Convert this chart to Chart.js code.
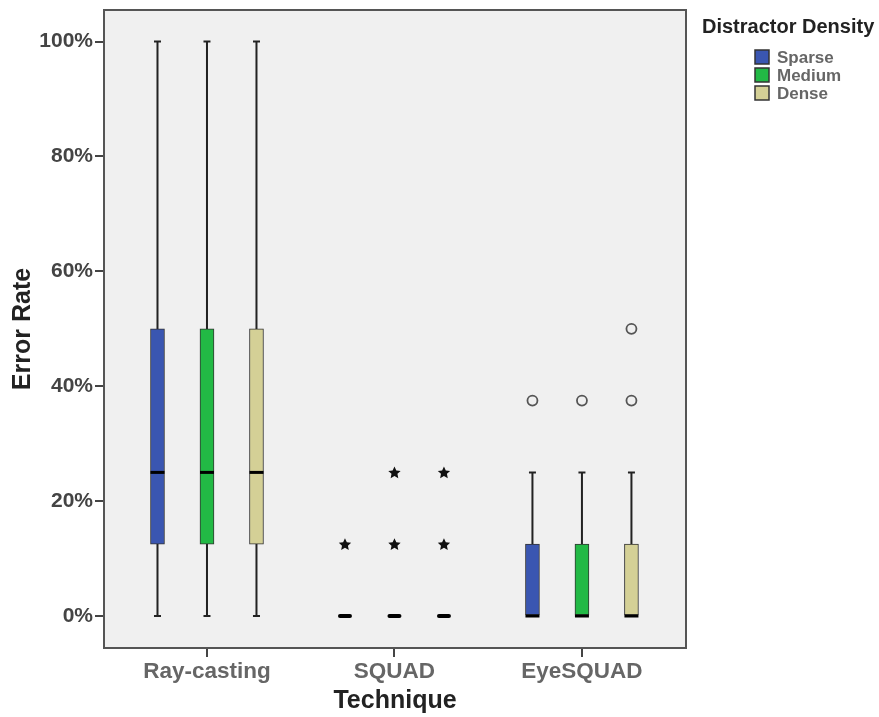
<!DOCTYPE html>
<html>
<head>
<meta charset="utf-8">
<script src="https://cdn.jsdelivr.net/npm/chart.js@4.4.1/dist/chart.umd.min.js"></script>
<style>
body{margin:0;background:#fff;}
</style>
</head>
<body>
<canvas id="chart" width="879" height="717"></canvas>
<script>
// values, error rate in %
var techniques = ['Ray-casting', 'SQUAD', 'EyeSQUAD'];
var densities = ['Sparse', 'Medium', 'Dense'];
var yTicks = [0, 20, 40, 60, 80, 100];

// [min, q1, median, q3, max] for each technique
var sparseBox = [[0, 12.5, 25, 50, 100], [0, 0, 0, 0, 0], [0, 0, 0, 12.5, 25]];
var mediumBox = [[0, 12.5, 25, 50, 100], [0, 0, 0, 0, 0], [0, 0, 0, 12.5, 25]];
var denseBox  = [[0, 12.5, 25, 50, 100], [0, 0, 0, 0, 0], [0, 0, 0, 12.5, 25]];

// extreme values (stars) and outliers (circles)
var sparseExtremes = [[], [12.5], []];
var mediumExtremes = [[], [12.5, 25], []];
var denseExtremes  = [[], [12.5, 25], []];
var sparseOutliers = [[], [], [37.5]];
var mediumOutliers = [[], [], [37.5]];
var denseOutliers  = [[], [], [37.5, 50]];

var colors = ['#3a56b1', '#22b945', '#d4d096'];
var boxes = [sparseBox, mediumBox, denseBox];
var extremes = [sparseExtremes, mediumExtremes, denseExtremes];
var outliers = [sparseOutliers, mediumOutliers, denseOutliers];

var FONT = "'Liberation Sans', Arial, sans-serif";
var spread = 0.264;
var boxW = 14;

function boxX(g, d) {
  return g + 1 + (d - 1) * spread;
}

var datasets = densities.map(function (name, d) {
  return {
    label: name,
    grouped: false,
    backgroundColor: colors[d],
    borderColor: '#333',
    borderWidth: 1,
    borderSkipped: false,
    barThickness: boxW,
    data: boxes[d].map(function (b, g) {
      return { x: boxX(g, d), y: [b[1], b[3]] };
    })
  };
});

function drawStar(ctx, x, y, r) {
  ctx.beginPath();
  for (var i = 0; i < 10; i++) {
    var rad = i % 2 === 0 ? r : r * 0.48;
    var a = -Math.PI / 2 + i * Math.PI / 5;
    var px = x + rad * Math.cos(a), py = y + rad * Math.sin(a);
    if (i === 0) ctx.moveTo(px, py); else ctx.lineTo(px, py);
  }
  ctx.closePath();
  ctx.fill();
}

var boxPlugin = {
  id: 'boxPlugin',
  beforeDraw: function (chart) {
    var a = chart.chartArea, ctx = chart.ctx;
    ctx.save();
    ctx.fillStyle = '#f0f0f0';
    ctx.fillRect(a.left, a.top, a.right - a.left, a.bottom - a.top);
    ctx.restore();
  },
  beforeDatasetsDraw: function (chart) {
    var ctx = chart.ctx, xs = chart.scales.x, ys = chart.scales.y;
    ctx.save();
    ctx.strokeStyle = '#222';
    ctx.lineWidth = 2;
    boxes.forEach(function (set, d) {
      set.forEach(function (b, g) {
        if (b[0] === b[4]) return;
        var px = xs.getPixelForValue(boxX(g, d));
        var top = ys.getPixelForValue(b[4]), bot = ys.getPixelForValue(b[0]);
        ctx.beginPath();
        ctx.moveTo(px, top);
        ctx.lineTo(px, bot);
        ctx.moveTo(px - 3.5, top);
        ctx.lineTo(px + 3.5, top);
        ctx.moveTo(px - 3.5, bot);
        ctx.lineTo(px + 3.5, bot);
        ctx.stroke();
      });
    });
    ctx.restore();
  },
  afterDatasetsDraw: function (chart) {
    var ctx = chart.ctx, xs = chart.scales.x, ys = chart.scales.y, a = chart.chartArea;
    ctx.save();
    // medians
    ctx.strokeStyle = '#000';
    boxes.forEach(function (set, d) {
      set.forEach(function (b, g) {
        var flat = b[1] === b[3];
        var px = xs.getPixelForValue(boxX(g, d));
        var py = ys.getPixelForValue(b[2]);
        ctx.lineWidth = flat ? 4 : 3;
        ctx.lineCap = flat ? 'round' : 'butt';
        ctx.beginPath();
        ctx.moveTo(px - boxW / 2 + (flat ? 2 : 0), py);
        ctx.lineTo(px + boxW / 2 - (flat ? 2 : 0), py);
        ctx.stroke();
      });
    });
    // extremes
    ctx.fillStyle = '#111';
    extremes.forEach(function (set, d) {
      set.forEach(function (vals, g) {
        vals.forEach(function (v) {
          drawStar(ctx, xs.getPixelForValue(boxX(g, d)), ys.getPixelForValue(v) + 0.5, 6.5);
        });
      });
    });
    // outliers
    ctx.strokeStyle = '#555';
    ctx.lineWidth = 1.8;
    outliers.forEach(function (set, d) {
      set.forEach(function (vals, g) {
        vals.forEach(function (v) {
          ctx.beginPath();
          ctx.arc(xs.getPixelForValue(boxX(g, d)), ys.getPixelForValue(v), 5, 0, Math.PI * 2);
          ctx.stroke();
        });
      });
    });
    // frame
    ctx.strokeStyle = '#555';
    ctx.lineWidth = 2;
    ctx.strokeRect(a.left, a.top, a.right - a.left, a.bottom - a.top);
    ctx.restore();
  },
  afterDraw: function (chart) {
    var ctx = chart.ctx;
    ctx.save();
    ctx.fillStyle = '#222';
    ctx.font = 'bold 20px ' + FONT;
    ctx.textBaseline = 'middle';
    ctx.textAlign = 'left';
    ctx.fillText('Distractor Density', 702, 27);
    ctx.font = 'bold 17px ' + FONT;
    chart.data.datasets.forEach(function (ds, i) {
      var cy = 57 + i * 18;
      ctx.fillStyle = ds.backgroundColor;
      ctx.fillRect(755, cy - 7, 14, 14);
      ctx.strokeStyle = '#333';
      ctx.lineWidth = 1.5;
      ctx.strokeRect(755, cy - 7, 14, 14);
      ctx.fillStyle = '#666';
      ctx.fillText(ds.label, 777, cy + 1);
    });
    ctx.restore();
  }
};

new Chart(document.getElementById('chart'), {
  type: 'bar',
  data: { datasets: datasets },
  plugins: [boxPlugin],
  options: {
    responsive: false,
    animation: false,
    devicePixelRatio: 1,
    layout: { padding: { top: 10, right: 193, bottom: 0, left: 0 } },
    plugins: { legend: { display: false }, tooltip: { enabled: false } },
    scales: {
      x: {
        type: 'linear',
        offset: false,
        min: 0.4507,
        max: 3.555,
        afterBuildTicks: function (scale) {
          scale.ticks = techniques.map(function (t, i) { return { value: i + 1 }; });
        },
        afterFit: function (scale) {
          scale.height = 69;
          scale.paddingLeft = 0;
          scale.paddingRight = 0;
        },
        border: { display: false },
        grid: { offset: false, drawOnChartArea: false, drawTicks: true, tickLength: 9, color: '#444', lineWidth: 2 },
        ticks: {
          padding: 1,
          color: '#666',
          font: { family: FONT, size: 22.5, weight: 'bold' },
          maxRotation: 0,
          autoSkip: false,
          callback: function (v, i) { return techniques[i]; }
        },
        title: {
          display: true,
          text: 'Technique',
          color: '#222',
          padding: { top: 0, bottom: 1 },
          font: { family: FONT, size: 25, weight: 'bold' }
        }
      },
      y: {
        min: -5.57,
        max: 105.5,
        afterBuildTicks: function (scale) {
          scale.ticks = yTicks.map(function (v) { return { value: v }; });
        },
        afterFit: function (scale) {
          scale.width = 104;
          scale.paddingTop = 0;
          scale.paddingBottom = 0;
        },
        border: { display: false },
        grid: { drawOnChartArea: false, drawTicks: true, tickLength: 9, color: '#444', lineWidth: 2 },
        ticks: {
          padding: 2,
          color: '#444',
          font: { family: FONT, size: 21, weight: 'bold' },
          callback: function (v) { return v + '%'; }
        },
        title: {
          display: true,
          text: 'Error Rate',
          color: '#222',
          padding: { top: 8, bottom: 0 },
          font: { family: FONT, size: 25, weight: 'bold' }
        }
      }
    }
  }
});
</script>
</body>
</html>
